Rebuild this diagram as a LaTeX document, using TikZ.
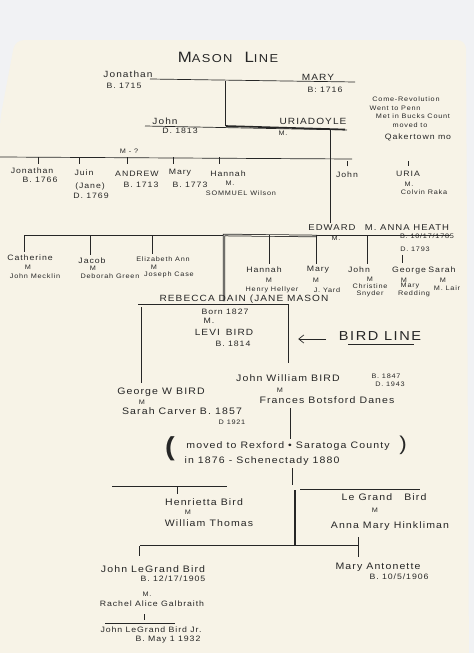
\documentclass[tikz,border=0pt]{standalone}
\usepackage{fontspec}
\newfontfamily\handfont[LetterSpace=12,FakeStretch=1.12]{Liberation Sans}
\usetikzlibrary{arrows.meta}
\definecolor{ink}{HTML}{262626}
\definecolor{paper}{HTML}{F7F3E7}
\definecolor{desk}{HTML}{F1F2F4}
\tikzset{
  hand/.style={font=\handfont\fontsize{7.8}{8}\selectfont, text=ink, inner sep=0.5pt},
  small/.style={hand, font=\handfont\fontsize{6.5}{7}\selectfont},
  caps/.style={hand, font=\handfont\fontsize{9}{9}\selectfont},
  bighand/.style={hand, font=\handfont\fontsize{9.4}{10}\selectfont},
  tick/.style={draw=ink, line width=0.6pt},
  famline/.style={draw=ink, line width=0.7pt},
  dbl/.style={draw=ink, double=paper, double distance=0.9pt, line width=0.75pt},
}
\begin{document}
\begin{tikzpicture}[x=1pt,y=-1pt,>={Straight Barb[length=5pt,width=8pt]}]
  \useasboundingbox (0,0) rectangle (474,653);
  % 台紙と紙
  \fill[desk] (0,0) rectangle (474,653);
  \fill[paper, rounded corners=9pt] (0,670) -- (0,120) -- (15,40) -- (466,40) -- (469,670) -- cycle;

  % 表題
  \node[hand, font=\handfont\fontsize{15}{15}\selectfont] (title) at (228,57)
    {M{\fontsize{11.5}{11.5}\selectfont ASON}\hspace{12pt}L{\fontsize{11.5}{11.5}\selectfont INE}};

  % Jonathan と Mary
  \node[caps] (jonathanA) at (128,74) {Jonathan};
  \node[hand] (jonathanAb) at (124,86) {B. 1715};
  \node[caps] (maryA) at (318,77) {MARY};
  \node[hand] (maryAb) at (325,90) {B: 1716};
  \coordinate (lineA1) at (150,79);
  \coordinate (lineA2) at (355,82);
  \draw[famline] (lineA1) -- (lineA2);
  \coordinate (dropA1) at (226,81);
  \coordinate (dropA2) at (226,126);
  \draw[dbl] (dropA1) -- (dropA2);

  % John と Uriadoyle
  \node[caps] (johnA) at (165,121) {John};
  \node[hand] (johnAd) at (180,131) {D. 1813};
  \node[caps] (uriadoyle) at (313,121) {URIADOYLE};
  \node[small] (uriadoyleM) at (283,133) {M.};
  \coordinate (lineB1) at (145,126);
  \coordinate (lineB2) at (347,130);
  \draw[famline] (lineB1) -- (lineB2);
  \draw[draw=ink, line width=1.6pt] (dropA2) -- (345,129.5);

  % 覚え書き
  \node[small] (noteA) at (406,99) {Come-Revolution};
  \node[small] (noteB) at (395,108) {Went to Penn};
  \node[small] (noteC) at (413,116) {Met in Bucks Count};
  \node[small] (noteD) at (410,125) {moved to};
  \node[hand] (noteE) at (418,137) {Qakertown mo};

  % Uriadoyle から Edward へ
  \coordinate (dropB1) at (331,130);
  \coordinate (dropB2) at (331,223);
  \draw[dbl] (dropB1) -- (dropB2);

  % 子の世代
  \node[small] (marriageQ) at (129,151) {M - ?};
  \coordinate (rowA1) at (0,157);
  \coordinate (rowA2) at (352,159);
  \draw[famline] (rowA1) -- (rowA2);
  \node[hand] (jonathanB) at (32,171) {Jonathan};
  \node[hand] (jonathanBb) at (40,180) {B. 1766};
  \node[hand] (juin) at (84,173) {Juin};
  \node[hand] (juinJane) at (90,186) {(Jane)};
  \node[hand] (juinD) at (91,196) {D. 1769};
  \node[hand] (andrew) at (137,174) {ANDREW};
  \node[hand] (andrewB) at (141,185) {B. 1713};
  \node[hand] (maryB) at (180,173) {Mary};
  \node[hand] (maryBb) at (190,185) {B. 1773};
  \node[hand] (hannahA) at (228,174) {Hannah};
  \node[small] (hannahAm) at (230,183) {M.};
  \node[small] (hannahAw) at (241,193) {SOMMUEL Wilson};
  \node[hand] (johnB) at (347,175) {John};
  \node[hand] (uria) at (408,174) {URIA};
  \node[small] (uriaM) at (409,184) {M.};
  \node[small] (uriaW) at (424,192) {Colvin Raka};
  \foreach \kid/\dx in {jonathanB/6, juin/-5, andrew/-10, maryB/-7, hannahA/-9}
    \draw[tick] ([xshift=\dx pt]\kid.north |- rowA1) -- ++(0,7);
  \foreach \kid in {johnB, uria}
    \draw[tick] ([yshift=5pt]\kid.north) -- ++(0,-5);

  % Edward と Anna Heath
  \node[caps, font=\handfont\fontsize{8.5}{9}\selectfont] (edward) at (332,228) {EDWARD};
  \node[small] (edwardM) at (336,238) {M.};
  \node[caps, font=\handfont\fontsize{8.5}{9}\selectfont] (anna) at (407,228) {M. ANNA HEATH};
  \node[small] (annaB) at (427,236) {B. 10/17/1785};
  \node[small] (annaD) at (415,249) {D. 1793};
  \coordinate (rowB1) at (24,235);
  \coordinate (rowB2) at (450,235);
  \draw[famline] (rowB1) -- (rowB2);
  \coordinate (frameA) at (224,235);
  \coordinate (frameB) at (224,301);
  \draw[dbl] (317,236) -- (frameA) -- (frameB);

  % Edward の子
  \node[hand] (catherine) at (30,258) {Catherine};
  \node[small] (catherineM) at (28,267) {M};
  \node[small] (catherineW) at (35,276) {John Mecklin};
  \node[hand] (jacob) at (92,261) {Jacob};
  \node[small] (jacobM) at (93,268) {M};
  \node[small] (jacobW) at (110,276) {Deborah Green};
  \node[small] (elizabeth) at (163,259) {Elizabeth Ann};
  \node[small] (elizabethM) at (154,267) {M};
  \node[small] (elizabethW) at (169,275) {Joseph Case};
  \node[hand] (hannahB) at (264,270) {Hannah};
  \node[small] (hannahBm) at (269,280) {M};
  \node[small] (hannahBw) at (272,290) {Henry Hellyer};
  \node[hand] (maryC) at (318,270) {Mary};
  \node[small] (maryCm) at (316,280) {M};
  \node[small] (maryCw) at (327,290) {J. Yard};
  \node[hand] (johnC) at (359,270) {John};
  \node[small] (johnCm) at (370,279) {M};
  \node[small] (johnCw) at (370,286) {Christine};
  \node[small] (johnCs) at (370,294) {Snyder};
  \node[hand] (george) at (409,271) {George};
  \node[small] (georgeM) at (404,280) {M};
  \node[small] (georgeW) at (410,286) {Mary};
  \node[small] (georgeR) at (414,294) {Redding};
  \node[hand] (sarah) at (442,270) {Sarah};
  \node[small] (sarahM) at (443,280) {M};
  \node[small] (sarahW) at (447,288) {M. Lair};
  \foreach \kid/\dx in {catherine/-6, jacob/-2, elizabeth/-11, hannahB/5, maryC/-2, johnC/8}
    \draw[tick] ([xshift=\dx pt]\kid.north |- rowB1) -- ([xshift=\dx pt,yshift=2pt]\kid.north);
  \draw[tick] ([xshift=-7pt,yshift=12pt]george.north) -- ([xshift=-7pt,yshift=4pt]george.north);

  % Rebecca と Levi Bird
  \node[caps] (rebecca) at (244,299) {REBECCA DAIN (JANE MASON};
  \coordinate (rebeccaL) at (138,305);
  \coordinate (rebeccaR) at (289,305);
  \draw[dbl] (rebeccaL) -- (rebeccaR);
  \coordinate (boxL) at (141,383);
  \coordinate (boxR) at (289,363);
  \draw[famline] (141,307) -- (boxL);
  \draw[dbl] (rebeccaR) -- (boxR);
  \node[hand] (born) at (225,312) {Born 1827};
  \node[hand] (levim) at (209,321) {M.};
  \node[caps] (levi) at (224,332) {LEVI\hspace{6pt}BIRD};
  \node[hand] (levib) at (233,344) {B. 1814};

  % Bird line
  \node[hand, font=\handfont\fontsize{13}{13}\selectfont] (birdline) at (380,336) {BIRD LINE};
  \draw[famline, ->] ([xshift=-12pt,yshift=-3pt]birdline.west) -- ++(-28,0);
  \draw[famline] ([xshift=10pt,yshift=-3pt]birdline.south west) -- ([xshift=-8pt,yshift=-3pt]birdline.south east);

  % George W Bird
  \node[bighand] (georgeW2) at (161,392) {George W BIRD};
  \node[small] (georgeW2m) at (142,402) {M};
  \node[bighand] (sarahC) at (182,411) {Sarah Carver B. 1857};
  \node[small] (sarahCd) at (232,422) {D 1921};

  % John William Bird
  \node[bighand] (johnW) at (288,378) {John William BIRD};
  \node[small] (johnWb) at (386,376) {B. 1847};
  \node[small] (johnWd) at (390,384) {D. 1943};
  \node[small] (johnWm) at (280,390) {M};
  \node[bighand] (frances) at (327,400) {Frances Botsford Danes};
  \coordinate (dropC1) at (291,408);
  \coordinate (dropC2) at (291,439);
  \draw[dbl] (dropC1) -- (dropC2);

  % 転居
  \node[hand, font=\handfont\fontsize{26}{26}\selectfont\bfseries] (parenL) at (170,449) {(};
  \node[bighand] (moved) at (288,446) {moved to Rexford • Saratoga County};
  \node[hand, font=\handfont\fontsize{20}{20}\selectfont] (parenR) at (403,445) {)};
  \node[bighand] (schenectady) at (262,461) {in 1876 - Schenectady 1880};

  % 次の世代
  \coordinate (dropD1) at (293,468);
  \coordinate (dropD2) at (293,485);
  \draw[dbl] (dropD1) -- (dropD2);
  \coordinate (dropE1) at (295,490);
  \coordinate (dropE2) at (295,545);
  \draw[draw=ink, line width=2pt] (dropE1) -- (dropE2);
  \coordinate (rowC1) at (112,486);
  \coordinate (rowC2) at (227,486);
  \draw[famline] (rowC1) -- (rowC2);
  \coordinate (rowD1) at (300,489);
  \coordinate (rowD2) at (420,489);
  \draw[famline] (rowD1) -- (rowD2);
  \node[bighand] (henrietta) at (204,502) {Henrietta Bird};
  \node[small] (henriettaM) at (188,512) {M};
  \node[bighand] (henriettaW) at (209,523) {William Thomas};
  \draw[tick] ([xshift=-27pt]henrietta.north |- rowC1) -- ++(0,8);
  \node[bighand] (legrand) at (384,497) {Le Grand\hspace{12pt}Bird};
  \node[small] (legrandM) at (375,510) {M};
  \node[bighand] (legrandW) at (390,526) {Anna Mary Hinkliman};

  % 孫の世代
  \coordinate (rowE1) at (140,546);
  \coordinate (rowE2) at (359,546);
  \draw[dbl] (rowE1) -- (rowE2);
  \draw[dbl] (rowE1) -- ++(0,10);
  \draw[dbl] (359,537) -- (359,557);
  \node[bighand] (johnLG) at (153,569) {John LeGrand Bird};
  \node[hand] (johnLGb) at (173,579) {B. 12/17/1905};
  \node[small] (johnLGm) at (147,594) {M.};
  \node[hand] (rachel) at (152,604) {Rachel Alice Galbraith};
  \coordinate (sonA) at (145,614);
  \coordinate (sonB) at (145,620);
  \draw[dbl] (sonA) -- (sonB);
  \coordinate (sonL) at (105,623);
  \coordinate (sonR) at (175,623);
  \draw[famline] (sonL) -- (sonR);
  \node[hand] (johnJr) at (151,630) {John LeGrand Bird Jr.};
  \node[hand] (johnJrb) at (168,640) {B. May 1 1932};
  \node[bighand] (maryAnt) at (378,567) {Mary Antonette};
  \node[hand] (maryAntb) at (399,577) {B. 10/5/1906};
\end{tikzpicture}
\end{document}
